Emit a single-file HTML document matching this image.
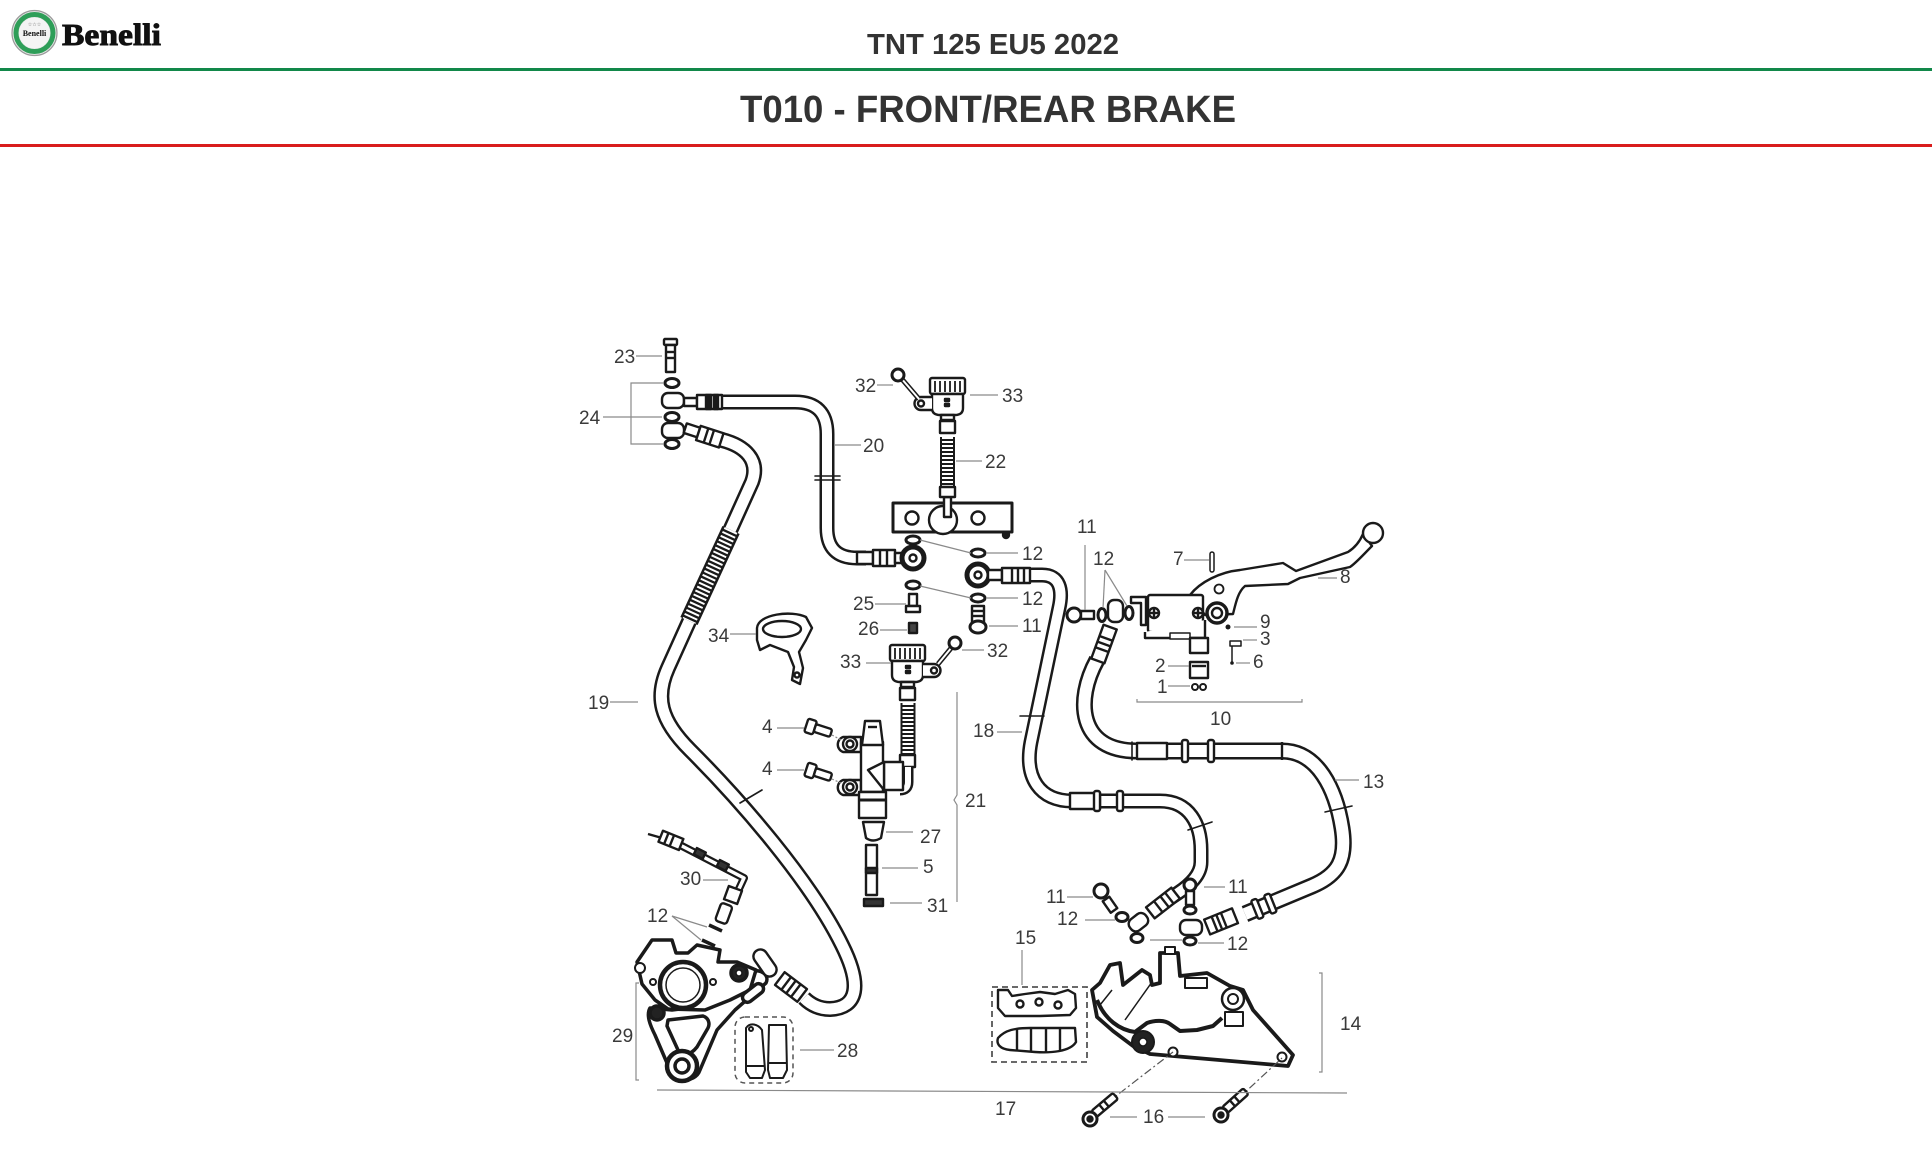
<!DOCTYPE html>
<html><head><meta charset="utf-8">
<style>
html,body{margin:0;padding:0;background:#fff;width:1932px;height:1151px;overflow:hidden}
svg{display:block;position:absolute;left:0;top:0;stroke-width:2.4}
.l{font-family:"Liberation Sans",sans-serif;font-size:19px;fill:#3a3a3a;stroke:none}
.g{stroke:#8a8a8a;fill:none}
.k{stroke:#1a1a1a;fill:#fff;stroke-linejoin:round}
.kn{stroke:#1a1a1a;fill:none;stroke-linejoin:round;stroke-linecap:round}
.b{fill:#1a1a1a}
.ho{stroke:#1a1a1a;fill:none;stroke-linejoin:round}
.hi{stroke:#fff;fill:none;stroke-linejoin:round}
</style></head><body>
<svg width="1932" height="1151" viewBox="0 0 1932 1151" xmlns="http://www.w3.org/2000/svg">
<!-- HEADER -->
<circle cx="34.5" cy="33" r="22.5" fill="#e6e6e6" stroke="#9a9a9a" stroke-width="1.2"/>
<circle cx="34.5" cy="33" r="18.5" fill="none" stroke="#2e9e58" stroke-width="5"/>
<circle cx="34.5" cy="33" r="15.5" fill="#f4f4f4" stroke="none"/>
<text x="34.5" y="36" text-anchor="middle" font-family="Liberation Serif,serif" font-weight="bold" font-size="8" fill="#111" stroke="none">Benelli</text>
<text x="34.5" y="26" text-anchor="middle" font-family="DejaVu Sans,sans-serif" font-size="5" fill="#555" stroke="none">☆☆☆</text>
<text x="62" y="45" font-family="Liberation Serif,serif" font-weight="bold" font-size="31" fill="#111" stroke="#111" stroke-width="0.9" textLength="99" lengthAdjust="spacingAndGlyphs">Benelli</text>
<text x="867" y="54" font-family="Liberation Sans,sans-serif" font-weight="bold" font-size="29" fill="#333" stroke="none" textLength="252" lengthAdjust="spacingAndGlyphs">TNT 125 EU5 2022</text>
<rect x="0" y="68" width="1932" height="3" fill="#12884a" stroke="none"/>
<text x="740" y="122" font-family="Liberation Sans,sans-serif" font-weight="bold" font-size="38" fill="#333" stroke="none" textLength="496" lengthAdjust="spacingAndGlyphs">T010 - FRONT/REAR BRAKE</text>
<rect x="0" y="144" width="1932" height="3" fill="#d91d1d" stroke="none"/>

<defs>
<path id="h20" d="M722 402 L795 402 Q827 402 827 434 L827 528 Q827 558 857 558 L866 558"/>
<path id="h19" d="M722 440 C745 446 760 460 752 482 L668 668 C655 697 660 720 690 750 C740 800 810 880 842 945 C862 985 858 1008 830 1009 C818 1009 810 1004 804 998"/>
<path id="h18" d="M1030 575 L1042 575 C1060 575 1063 590 1059 608 L1031 742 C1024 778 1040 801 1072 801 L1160 801 C1190 801 1201 825 1201 850 L1201 862 C1201 875 1190 885 1178 893 L1160 905"/>
<path id="h13" d="M1097 660 C1075 700 1078 751 1137 751 L1282 751 C1318 751 1336 790 1342 828 C1347 860 1338 875 1312 886 L1245 914"/>
</defs>

<!-- HOSES -->
<use href="#h20" class="ho" stroke-width="15"/><use href="#h20" class="hi" stroke-width="10"/>
<use href="#h19" class="ho" stroke-width="16"/><use href="#h19" class="hi" stroke-width="11"/>
<use href="#h18" class="ho" stroke-width="15"/><use href="#h18" class="hi" stroke-width="10"/>
<use href="#h13" class="ho" stroke-width="17"/><use href="#h13" class="hi" stroke-width="12"/>

<!-- spiral guard on 19 -->
<line x1="731" y1="530" x2="689" y2="621" stroke="#1a1a1a" stroke-width="19"/>
<line x1="731" y1="530" x2="689" y2="621" stroke="#fff" stroke-width="14" stroke-dasharray="2 2.3"/>

<!-- hose tick marks -->
<g class="kn" stroke-width="1.6">
<line x1="815" y1="476" x2="840" y2="476"/><line x1="815" y1="480" x2="840" y2="480"/>
<line x1="740" y1="803" x2="762" y2="790"/>
<line x1="1020" y1="716" x2="1044" y2="716"/>
<line x1="1188" y1="830" x2="1212" y2="822"/>
<line x1="1325" y1="812" x2="1352" y2="806"/>
<line x1="1132" y1="742" x2="1132" y2="760"/>
</g>

<!-- hose bands -->
<g class="k">
<rect x="1070" y="793" width="30" height="16"/>
<rect x="1094" y="791" width="6" height="20" rx="2"/>
<rect x="1117" y="791" width="6" height="20" rx="2"/>
<rect x="1137" y="743" width="30" height="16"/>
<rect x="1182" y="740" width="6" height="22" rx="2"/>
<rect x="1208" y="740" width="6" height="22" rx="2"/>
<line x1="1282" y1="742" x2="1282" y2="760"/>
</g>
<g class="k">
<g transform="translate(1163,903) rotate(-38)"><rect x="-16" y="-7" width="32" height="14"/><line x1="-6" y1="-7" x2="-6" y2="7"/><line x1="2" y1="-7" x2="2" y2="7"/><line x1="8" y1="-7" x2="8" y2="7"/></g>
<g transform="translate(1140,921) rotate(-38)"><rect x="-12" y="-7" width="20" height="14" rx="6"/></g>
<g transform="translate(1262,907) rotate(-22)"><rect x="-8" y="-10" width="6" height="20" rx="2"/><rect x="6" y="-10" width="6" height="20" rx="2"/></g>
<g transform="translate(1222,921) rotate(-22)"><rect x="-16" y="-8" width="30" height="16"/><line x1="-8" y1="-8" x2="-8" y2="8"/><line x1="-3" y1="-8" x2="-3" y2="8"/><line x1="2" y1="-8" x2="2" y2="8"/></g>
<rect x="1180" y="920" width="22" height="15" rx="6"/>
<g transform="translate(1104,644) rotate(-70)"><rect x="-18" y="-7" width="36" height="14"/><line x1="-6" y1="-7" x2="-6" y2="7"/><line x1="0" y1="-7" x2="0" y2="7"/><line x1="6" y1="-7" x2="6" y2="7"/></g>
<rect x="1108" y="600" width="15" height="22" rx="6"/>
</g>

<!-- TOP-LEFT: 23, 24, eyes -->
<g class="k">
<rect x="664" y="339" width="13" height="6" rx="1"/>
<rect x="666" y="345" width="9" height="27"/>
<line x1="666" y1="352" x2="675" y2="352"/><line x1="666" y1="358" x2="675" y2="358"/>
<ellipse cx="672" cy="383" rx="7" ry="4.5" stroke-width="3"/>
<rect x="662" y="393" width="22" height="15" rx="6"/>
<ellipse cx="672" cy="417" rx="7" ry="4.5" stroke-width="3"/>
<rect x="662" y="423" width="22" height="15" rx="6"/>
<ellipse cx="672" cy="444" rx="7" ry="4.5" stroke-width="3"/>
<rect x="684" y="398" width="13" height="8"/>
<rect x="697" y="395" width="25" height="14"/>
<rect x="706" y="395" width="5" height="14" class="b"/><rect x="714" y="395" width="4" height="14" class="b"/>
<g transform="translate(703,435) rotate(18)"><rect x="-19" y="-6" width="14" height="10"/><rect x="-5" y="-8" width="24" height="15"/><line x1="3" y1="-8" x2="3" y2="7"/><line x1="9" y1="-8" x2="9" y2="7"/></g>
</g>

<!-- 20 fitting + eyes at block -->
<g class="k">
<rect x="857" y="552" width="16" height="12"/>
<rect x="873" y="550" width="22" height="16"/>
<line x1="880" y1="550" x2="880" y2="566"/><line x1="887" y1="550" x2="887" y2="566"/>
<rect x="895" y="553" width="8" height="10"/>
<circle cx="913" cy="558" r="11" stroke-width="5"/>
<circle cx="913" cy="558" r="3.5"/>
<ellipse cx="913" cy="540" rx="7" ry="4" stroke-width="3"/>
<ellipse cx="913" cy="585" rx="7" ry="4" stroke-width="3"/>
<rect x="909" y="594" width="8" height="12"/>
<rect x="906" y="606" width="14" height="6"/>
<rect x="909" y="623" width="8" height="10" fill="#444"/>
<ellipse cx="978" cy="553" rx="7" ry="4" stroke-width="3"/>
<circle cx="978" cy="575" r="11" stroke-width="5"/>
<circle cx="978" cy="575" r="3.5"/>
<rect x="988" y="570" width="14" height="10"/>
<rect x="1002" y="568" width="28" height="15"/>
<line x1="1012" y1="568" x2="1012" y2="583"/><line x1="1018" y1="568" x2="1018" y2="583"/><line x1="1024" y1="568" x2="1024" y2="583"/>
<ellipse cx="978" cy="598" rx="7" ry="4" stroke-width="3"/>
<rect x="972" y="606" width="12" height="17"/>
<line x1="972" y1="611" x2="984" y2="611"/><line x1="972" y1="616" x2="984" y2="616"/>
<ellipse cx="978" cy="627" rx="8" ry="6" stroke-width="3"/>
</g>

<!-- block -->
<g class="k">
<rect x="893" y="503" width="119" height="29" stroke-width="3"/>
<circle cx="912" cy="518" r="6.5"/>
<circle cx="978" cy="518" r="6.5"/>
<circle cx="943" cy="520" r="14"/>
<rect x="944" y="497" width="7" height="20"/>
<circle cx="1006" cy="535" r="3" class="b"/>
</g>

<!-- reservoir upper + hose 22 -->
<g id="res" class="k">
<rect x="930" y="378" width="35" height="16" rx="2"/>
<g stroke-width="1.8"><line x1="935" y1="381" x2="935" y2="392"/><line x1="940" y1="381" x2="940" y2="392"/><line x1="945" y1="381" x2="945" y2="392"/><line x1="950" y1="381" x2="950" y2="392"/><line x1="955" y1="381" x2="955" y2="392"/><line x1="960" y1="381" x2="960" y2="392"/></g>
<path d="M932 394 L963 394 L963 408 Q963 415 955 415 L940 415 Q932 415 932 408 Z"/>
<rect x="945" y="399" width="4" height="2" class="b"/><rect x="945" y="404" width="4" height="2" class="b"/>
<path d="M932 397 L921 397 A6.5 6.5 0 0 0 921 410 L932 410"/>
<circle cx="921" cy="403.5" r="3"/>
<rect x="941" y="415" width="13" height="5"/>
</g>
<rect x="940" y="421" width="15" height="12" class="k" fill="#333"/>
<line x1="947.5" y1="437" x2="947.5" y2="487" stroke="#1a1a1a" stroke-width="15"/>
<line x1="947.5" y1="437" x2="947.5" y2="487" stroke="#fff" stroke-width="11" stroke-dasharray="2 2"/>
<rect x="940" y="487" width="15" height="10" class="k" fill="#333"/>
<!-- bolt 32 upper -->
<line x1="901" y1="378" x2="919" y2="399" stroke="#1a1a1a" stroke-width="5"/>
<line x1="901" y1="378" x2="919" y2="399" stroke="#fff" stroke-width="2"/>
<circle cx="898" cy="375" r="6" class="k" stroke-width="3" fill="#888"/>

<!-- reservoir lower (mirrored) -->
<use href="#res" transform="translate(1855,267) scale(-1,1)"/>
<line x1="952" y1="647" x2="938" y2="664" stroke="#1a1a1a" stroke-width="5"/>
<line x1="952" y1="647" x2="938" y2="664" stroke="#fff" stroke-width="2"/>
<circle cx="955" cy="643" r="6" class="k" stroke-width="3" fill="#888"/>
<rect x="900" y="688" width="15" height="12" class="k" fill="#333"/>
<line x1="908" y1="703" x2="908" y2="755" stroke="#1a1a1a" stroke-width="15"/>
<line x1="908" y1="703" x2="908" y2="755" stroke="#fff" stroke-width="11" stroke-dasharray="2 2"/>
<rect x="900" y="755" width="15" height="12" class="k" fill="#333"/>
<path d="M908 767 L908 782 Q908 790 900 790" fill="none" stroke="#1a1a1a" stroke-width="11"/>
<path d="M908 767 L908 782 Q908 790 900 790" fill="none" stroke="#fff" stroke-width="6"/>

<!-- master cylinder 21 -->
<g class="k">
<path d="M843 737 L861 737 L861 752 L843 752 A8 8 0 0 1 843 737 Z"/>
<circle cx="850" cy="744" r="7"/><circle cx="850" cy="744" r="3.5"/>
<path d="M843 780 L861 780 L861 795 L843 795 A8 8 0 0 1 843 780 Z"/>
<circle cx="850" cy="787" r="7"/><circle cx="850" cy="787" r="3.5"/>
<rect x="861" y="742" width="22" height="50"/>
<path d="M862 745 L865 721 L880 721 L883 745 Z"/>
<line x1="868" y1="727" x2="877" y2="727"/>
<rect x="884" y="762" width="19" height="28"/>
<path d="M868 770 L884 762 L884 790 Z"/>
<rect x="859" y="792" width="27" height="26"/>
<line x1="859" y1="800" x2="886" y2="800" stroke-width="3"/>
<path d="M863 822 L884 822 L881 838 Q873 843 866 838 Z"/>
<rect x="866" y="845" width="11" height="50"/>
<rect x="866" y="868" width="11" height="5" fill="#333"/>
<rect x="864" y="899" width="19" height="7" fill="#333"/>
</g>
<!-- bolts 4 -->
<g class="k">
<g transform="translate(812,727) rotate(18)"><rect x="-6" y="-7" width="9" height="14" rx="2"/><rect x="3" y="-4" width="17" height="8" rx="2"/></g>
<g transform="translate(812,771) rotate(18)"><rect x="-6" y="-7" width="9" height="14" rx="2"/><rect x="3" y="-4" width="17" height="8" rx="2"/></g>
</g>
<line x1="832" y1="735" x2="843" y2="741" class="g" stroke-width="1.2" stroke-dasharray="2 2"/>
<line x1="832" y1="779" x2="843" y2="784" class="g" stroke-width="1.2" stroke-dasharray="2 2"/>

<!-- bracket 34 -->
<g class="k">
<path d="M757 628 C758 614 792 610 806 617 L812 628 L806 640 L799 652 L803 668 L800 684 L792 680 L794 667 L788 652 L770 645 L760 650 L757 640 Z"/>
<ellipse cx="782" cy="629" rx="19" ry="8"/>
<circle cx="797" cy="675" r="2.5"/>
</g>

<!-- part 30 -->
<path d="M680 845 L744 878 L738 891" fill="none" stroke="#1a1a1a" stroke-width="8" stroke-linejoin="round"/>
<path d="M680 845 L744 878 L738 891" fill="none" stroke="#fff" stroke-width="3.5" stroke-linejoin="round"/>
<g class="k">
<line x1="648" y1="834" x2="662" y2="838"/>
<g transform="translate(670,840) rotate(22)"><rect x="-10" y="-6" width="22" height="12"/><line x1="-4" y1="-6" x2="-4" y2="6"/><line x1="2" y1="-6" x2="2" y2="6"/></g>
<rect x="695" y="850" width="10" height="7" fill="#333" transform="rotate(27 700 853)"/>
<rect x="718" y="862" width="10" height="7" fill="#333" transform="rotate(27 723 865)"/>
<rect x="726" y="888" width="14" height="14" transform="rotate(20 733 895)"/>
<rect x="718" y="904" width="12" height="19" rx="3" transform="rotate(20 724 913)"/>
</g>
<!-- 12 dashes rear -->
<line x1="709" y1="925" x2="722" y2="931" stroke="#1a1a1a" stroke-width="3.5"/>
<line x1="702" y1="940" x2="715" y2="946" stroke="#1a1a1a" stroke-width="3.5"/>

<!-- rear caliper 29 -->
<g class="k" stroke-width="3.5">
<path d="M650 1008 C646 1015 650 1025 655 1035 L667 1063 C670 1082 695 1085 700 1070 L717 1030 L735 1010 L766 983 C770 975 760 968 752 972 L732 990 L712 1005 L672 1010 Z"/>
<path d="M668 1020 L703 1016 C709 1018 710 1024 708 1028 L697 1047 C690 1056 682 1056 678 1050 L667 1026 Z"/>
<circle cx="682" cy="1066" r="15" stroke-width="4.5"/>
<circle cx="682" cy="1066" r="7"/>
<circle cx="657" cy="1013" r="7" fill="#222"/>
<path d="M637 962 L652 940 L672 940 L676 953 L688 953 L697 945 L720 950 L718 962 L737 962 L756 970 L750 990 L730 1000 L705 1010 L668 1009 L655 1000 L642 984 Z"/>
<circle cx="683" cy="985" r="23" stroke-width="4.5"/>
<circle cx="683" cy="985" r="17" stroke-width="1.5"/>
<circle cx="653" cy="982" r="3" stroke-width="2"/>
<circle cx="713" cy="982" r="3" stroke-width="2"/>
<circle cx="739" cy="973" r="8" fill="#222"/>
<circle cx="739" cy="973" r="3" stroke-width="1.5"/>
<circle cx="640" cy="968" r="5" stroke-width="2"/>
<g transform="translate(753,993) rotate(-38)"><rect x="-12" y="-5" width="24" height="10" rx="5"/></g>
</g>
<!-- rear hose end -->
<g class="k">
<g transform="translate(791,987) rotate(37)"><rect x="-14" y="-8" width="28" height="16"/><line x1="-6" y1="-8" x2="-6" y2="8"/><line x1="0" y1="-8" x2="0" y2="8"/><line x1="6" y1="-8" x2="6" y2="8"/></g>
<g transform="translate(765,963) rotate(55)"><rect x="-15" y="-7" width="30" height="14" rx="7"/></g>
</g>

<!-- pads 28 -->
<rect x="735" y="1017" width="58" height="66" rx="10" fill="none" stroke="#555" stroke-width="1.5" stroke-dasharray="5 4"/>
<g class="k" stroke-width="2">
<path d="M746 1028 C750 1022 758 1024 762 1030 L765 1070 L762 1078 L750 1078 L746 1072 Z"/>
<circle cx="751" cy="1029" r="2"/>
<line x1="746" y1="1066" x2="764" y2="1066"/>
<path d="M769 1025 L786 1025 L787 1070 L783 1078 L770 1078 L768 1070 Z"/>
<line x1="768" y1="1063" x2="787" y2="1063"/>
</g>

<!-- pads 15 -->
<rect x="992" y="987" width="95" height="75" fill="none" stroke="#555" stroke-width="1.8" stroke-dasharray="6 4"/>
<g class="k">
<path d="M998 990 L1008 990 L1012 996 L1025 994 L1040 992 L1055 994 L1068 990 L1075 994 L1076 1008 L1070 1015 L1040 1016 L1005 1016 L998 1008 Z"/>
<circle cx="1020" cy="1004" r="3.5"/><circle cx="1039" cy="1002" r="3.5"/><circle cx="1058" cy="1005" r="3.5"/>
<path d="M998 1038 C1005 1030 1015 1028 1030 1028 L1075 1028 L1076 1042 C1070 1052 1050 1053 1035 1052 L1010 1050 C1000 1049 996 1044 998 1038 Z"/>
<line x1="1017" y1="1028" x2="1017" y2="1051"/><line x1="1031" y1="1028" x2="1031" y2="1052"/><line x1="1046" y1="1028" x2="1046" y2="1052"/><line x1="1060" y1="1028" x2="1060" y2="1050"/>
</g>

<!-- front caliper 14 -->
<g class="k" stroke-width="3.8">
<path d="M1092 990 L1100 983 L1110 965 L1120 963 L1123 985 L1142 970 L1150 975 L1152 985 L1160 983 L1160 953 L1178 953 L1180 976 L1207 973 L1230 986 L1243 990 L1253 1010 L1293 1055 L1288 1066 L1150 1054 L1133 1046 L1113 1031 L1097 1017 Z"/>
<rect x="1165" y="947" width="10" height="7" stroke-width="2"/>
<path d="M1097 1000 C1105 1020 1120 1030 1135 1032 L1147 1023 C1155 1020 1165 1020 1170 1024 L1180 1031 L1197 1030 L1213 1026 L1222 1018" fill="none" stroke-width="4"/>
<circle cx="1143" cy="1042" r="11" fill="#222" stroke-width="2"/>
<circle cx="1143" cy="1042" r="4" stroke-width="1.5"/>
<circle cx="1233" cy="999" r="11" stroke-width="2.5"/>
<circle cx="1233" cy="999" r="5" stroke-width="2"/>
<circle cx="1173" cy="1052" r="4.5" stroke-width="2"/>
<circle cx="1282" cy="1057" r="4.5" stroke-width="2"/>
<line x1="1152" y1="982" x2="1125" y2="1020" stroke-width="1.5"/>
<line x1="1112" y1="990" x2="1100" y2="1005" stroke-width="1.5"/>
<rect x="1185" y="978" width="22" height="10" stroke-width="2"/>
<rect x="1225" y="1012" width="18" height="14" stroke-width="2"/>
</g>
<!-- bolts 16 -->
<line x1="1094" y1="1113" x2="1173" y2="1052" stroke="#555" stroke-width="1.2" stroke-dasharray="8 3 2 3"/>
<line x1="1226" y1="1110" x2="1282" y2="1058" stroke="#555" stroke-width="1.2" stroke-dasharray="8 3 2 3"/>
<g class="k">
<g transform="translate(1094,1114) rotate(-40)"><rect x="0" y="-4" width="28" height="8" rx="2"/><line x1="10" y1="-4" x2="10" y2="4"/><line x1="16" y1="-4" x2="16" y2="4"/></g>
<g transform="translate(1225,1110) rotate(-42)"><rect x="0" y="-4" width="28" height="8" rx="2"/><line x1="10" y1="-4" x2="10" y2="4"/><line x1="16" y1="-4" x2="16" y2="4"/></g>
<circle cx="1090" cy="1119" r="7" stroke-width="3"/>
<circle cx="1221" cy="1115" r="7" stroke-width="3"/>
<circle cx="1090" cy="1119" r="2.5" class="b"/>
<circle cx="1221" cy="1115" r="2.5" class="b"/>
</g>

<!-- front bottom eyes / bolts 11 12 -->
<g class="k">
<circle cx="1101" cy="891" r="7" stroke-width="3"/>
<g transform="translate(1106,899) rotate(55)"><rect x="0" y="-4" width="14" height="8"/></g>
<ellipse cx="1122" cy="917" rx="6" ry="4.5" stroke-width="3"/>
<ellipse cx="1137" cy="938" rx="6" ry="4.5" stroke-width="3"/>
<circle cx="1190" cy="885" r="6" stroke-width="3"/>
<rect x="1186" y="891" width="8" height="14"/>
<ellipse cx="1190" cy="910" rx="6" ry="4" stroke-width="3"/>
<ellipse cx="1190" cy="941" rx="6" ry="4" stroke-width="3"/>
</g>

<!-- front master cylinder 10 & lever 8 -->
<g class="k">
<path d="M1190 595 C1200 582 1220 572 1240 570 L1283 563 L1296 571 L1348 552 C1356 547 1360 541 1363 534 L1372 546 C1362 556 1356 563 1350 567 L1300 578 L1288 584 L1245 586 C1238 592 1236 602 1233 614 L1205 615 Z"/>
<circle cx="1373" cy="533" r="10"/>
<path d="M1131 597 L1146 597 L1146 625 L1141 625 L1141 603 L1131 603 Z"/>
<rect x="1148" y="595" width="55" height="37" rx="2"/>
<path d="M1145 632 L1145 638 L1205 638 L1205 620"/>
<rect x="1170" y="633" width="20" height="6" stroke-width="1.5"/>
<rect x="1190" y="638" width="18" height="15"/>
<circle cx="1154" cy="613" r="5"/><line x1="1150" y1="613" x2="1158" y2="613"/><line x1="1154" y1="609" x2="1154" y2="617"/>
<circle cx="1198" cy="613" r="5"/><line x1="1194" y1="613" x2="1202" y2="613"/><line x1="1198" y1="609" x2="1198" y2="617"/>
<circle cx="1217" cy="613" r="10" stroke-width="3.5"/>
<circle cx="1217" cy="613" r="5"/>
<circle cx="1219" cy="589" r="4.5" stroke-width="1.8"/>
<rect x="1210" y="552" width="4" height="20" rx="2" stroke-width="1.5"/>
<rect x="1190" y="662" width="18" height="16"/>
<line x1="1192" y1="666" x2="1206" y2="666"/>
<circle cx="1195" cy="687" r="3" stroke-width="2"/>
<circle cx="1203" cy="687" r="3" stroke-width="2"/>
<rect x="1230" y="641" width="11" height="5" stroke-width="1.5"/>
<line x1="1232" y1="646" x2="1232" y2="662" stroke-width="1.5"/>
</g>
<circle cx="1228" cy="627" r="2.5" class="b" stroke="none"/>
<circle cx="1232" cy="663" r="1.8" class="b" stroke="none"/>
<!-- bolt 11 horizontal + washers -->
<g class="k">
<circle cx="1074" cy="615" r="7" stroke-width="3"/>
<rect x="1081" y="611" width="13" height="8"/>
<ellipse cx="1102" cy="615" rx="4" ry="6.5" stroke-width="3"/>
<ellipse cx="1129" cy="613" rx="4" ry="6.5" stroke-width="3"/>
</g>

<!-- LEADER LINES -->
<g class="g" stroke-width="1.2">
<line x1="636" y1="356" x2="662" y2="356"/>
<polyline points="664,383 631,383 631,444 664,444"/>
<line x1="603" y1="417" x2="662" y2="417"/>
<line x1="835" y1="445" x2="861" y2="445"/>
<line x1="956" y1="461" x2="982" y2="461"/>
<line x1="877" y1="385" x2="893" y2="385"/>
<line x1="970" y1="395" x2="998" y2="395"/>
<line x1="920" y1="540" x2="971" y2="553"/>
<line x1="987" y1="553" x2="1018" y2="553"/>
<line x1="920" y1="586" x2="971" y2="598"/>
<line x1="987" y1="598" x2="1018" y2="598"/>
<line x1="989" y1="626" x2="1018" y2="626"/>
<line x1="875" y1="604" x2="906" y2="604"/>
<line x1="880" y1="630" x2="907" y2="630"/>
<line x1="962" y1="650" x2="984" y2="650"/>
<line x1="866" y1="663" x2="891" y2="663"/>
<line x1="730" y1="634" x2="756" y2="634"/>
<line x1="610" y1="702" x2="638" y2="702"/>
<line x1="777" y1="728" x2="804" y2="728"/>
<line x1="777" y1="770" x2="804" y2="770"/>
<line x1="997" y1="732" x2="1022" y2="732"/>
<path d="M957 692 L957 795 L954 800 L957 805 L957 902"/>
<line x1="886" y1="832" x2="913" y2="832"/>
<line x1="882" y1="868" x2="918" y2="868"/>
<line x1="890" y1="903" x2="922" y2="903"/>
<line x1="703" y1="880" x2="728" y2="880"/>
<line x1="672" y1="916" x2="707" y2="927"/>
<line x1="672" y1="916" x2="701" y2="940"/>
<path d="M639 983 L636 983 L636 1080 L639 1080"/>
<line x1="800" y1="1050" x2="834" y2="1050"/>
<line x1="657" y1="1090" x2="1347" y2="1093"/>
<line x1="1022" y1="950" x2="1022" y2="985"/>
<path d="M1319 973 L1322 973 L1322 1072 L1319 1072"/>
<line x1="1110" y1="1117" x2="1137" y2="1117"/>
<line x1="1168" y1="1117" x2="1205" y2="1117"/>
<line x1="1067" y1="897" x2="1093" y2="897"/>
<line x1="1085" y1="920" x2="1115" y2="920"/>
<line x1="1204" y1="887" x2="1225" y2="887"/>
<line x1="1150" y1="940" x2="1182" y2="940"/>
<line x1="1198" y1="943" x2="1224" y2="943"/>
<line x1="1335" y1="780" x2="1359" y2="780"/>
<path d="M1137 699 L1137 702 L1302 702 L1302 699"/>
<line x1="1085" y1="545" x2="1085" y2="610"/>
<line x1="1105" y1="570" x2="1103" y2="608"/>
<line x1="1105" y1="570" x2="1127" y2="606"/>
<line x1="1184" y1="560" x2="1209" y2="560"/>
<line x1="1318" y1="578" x2="1337" y2="578"/>
<line x1="1234" y1="627" x2="1257" y2="627"/>
<line x1="1243" y1="640" x2="1257" y2="640"/>
<line x1="1236" y1="663" x2="1250" y2="663"/>
<line x1="1168" y1="666" x2="1189" y2="666"/>
<line x1="1168" y1="686" x2="1190" y2="686"/>
</g>

<!-- LABELS -->
<g class="l">
<text x="614" y="363">23</text>
<text x="579" y="424">24</text>
<text x="863" y="452">20</text>
<text x="985" y="468">22</text>
<text x="855" y="392">32</text>
<text x="1002" y="402">33</text>
<text x="1022" y="560">12</text>
<text x="1022" y="605">12</text>
<text x="853" y="610">25</text>
<text x="858" y="635">26</text>
<text x="1022" y="632">11</text>
<text x="987" y="657">32</text>
<text x="840" y="668">33</text>
<text x="708" y="642">34</text>
<text x="588" y="709">19</text>
<text x="762" y="733">4</text>
<text x="762" y="775">4</text>
<text x="973" y="737">18</text>
<text x="965" y="807">21</text>
<text x="920" y="843">27</text>
<text x="923" y="873">5</text>
<text x="927" y="912">31</text>
<text x="680" y="885">30</text>
<text x="647" y="922">12</text>
<text x="612" y="1042">29</text>
<text x="837" y="1057">28</text>
<text x="995" y="1115">17</text>
<text x="1015" y="944">15</text>
<text x="1340" y="1030">14</text>
<text x="1143" y="1123">16</text>
<text x="1046" y="903">11</text>
<text x="1057" y="925">12</text>
<text x="1228" y="893">11</text>
<text x="1227" y="950">12</text>
<text x="1363" y="788">13</text>
<text x="1210" y="725">10</text>
<text x="1077" y="533">11</text>
<text x="1093" y="565">12</text>
<text x="1173" y="565">7</text>
<text x="1340" y="583">8</text>
<text x="1260" y="628">9</text>
<text x="1260" y="645">3</text>
<text x="1253" y="668">6</text>
<text x="1155" y="672">2</text>
<text x="1157" y="693">1</text>
</g>
</svg>
</body></html>
